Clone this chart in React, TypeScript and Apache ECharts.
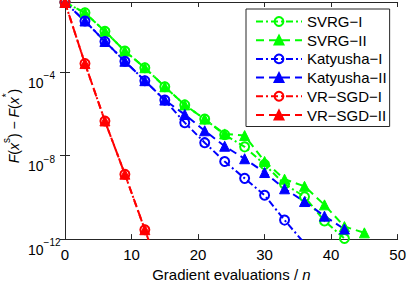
import React, { useEffect, useRef } from 'react';
import * as echarts from 'echarts';

const FONT = '"Liberation Sans", Arial, Helvetica, sans-serif';

// Gradient evaluations / n at which each marker is plotted
const evals = [0, 3, 6, 9, 12, 15, 18, 21, 24, 27, 30, 33, 36, 39, 42, 45];

// log10 of F(x^s) - F(x^*)
const svrgI = [-0.66, -1.16, -2.04, -2.99, -3.79, -4.7, -5.57, -6.25, -7.0, -7.58, -8.43, -9.36, -9.97, -11.13, -11.97];
const svrgII = [-0.66, -1.16, -2.04, -2.99, -3.79, -4.7, -5.57, -6.25, -6.96, -7.04, -8.28, -9.13, -9.47, -10.36, -11.4, -11.7];
const katyushaI = [-0.66, -1.55, -2.53, -3.48, -4.41, -5.34, -6.42, -7.38, -8.28, -9.09, -9.9, -11.09, -12.2];
const katyushaII = [-0.66, -1.55, -2.53, -3.48, -4.41, -5.34, -6.03, -6.81, -7.55, -8.15, -8.81, -9.59, -10.2, -10.9, -11.52];
const vrsgdI = [-0.66, -3.59, -6.34, -8.89, -11.55, -14.2];
const vrsgdII = [-0.66, -3.59, -6.34, -8.89, -11.55, -14.2];

const names = ['SVRG−I', 'SVRG−II', 'Katyusha−I', 'Katyusha−II', 'VR−SGD−I', 'VR−SGD−II'];
const GREEN = '#00ff00';
const BLUE = '#0000ff';
const RED = '#ff0000';

const X_MIN = 0;
const X_MAX = 50;
const X_STEP = 10;
const Y_MIN = -12;
const Y_MAX = -0.64;
const Y_STEP = 4;

function pairs(arr: number[]) {
  return arr.map((v, i) => [evals[i], v]);
}

function mk(name: string, arr: number[], color: string, kind: 'I' | 'II') {
  const isI = kind === 'I';
  return {
    name,
    type: 'line',
    data: pairs(arr),
    clip: true,
    symbol: isI ? 'circle' : 'triangle',
    symbolSize: isI ? 9 : 10,
    showAllSymbol: true,
    lineStyle: { color, width: 2, type: isI ? [7, 3, 2, 3] : [8, 5] },
    itemStyle: isI
      ? { color: 'rgba(255,255,255,0)', borderColor: color, borderWidth: 2 }
      : { color, borderColor: color, borderWidth: 1 },
    emphasis: { disabled: true },
  };
}

export default function App() {
  const ref = useRef<HTMLDivElement>(null);
  useEffect(() => {
    if (!ref.current) return;
    const chart = echarts.init(ref.current, undefined, { renderer: 'svg' });
    const axisColor = '#262626';
    chart.setOption({
      animation: false,
      backgroundColor: '#fff',
      textStyle: { fontFamily: FONT },
      grid: { left: 65, top: 2, right: 9, bottom: 40, containLabel: false },
      legend: {
        orient: 'vertical',
        left: 246,
        top: 9,
        itemWidth: 46,
        itemHeight: 11,
        itemGap: 3.7,
        padding: [5, 3, 4, 9],
        borderColor: axisColor,
        borderWidth: 1,
        backgroundColor: '#fff',
        textStyle: { fontSize: 15, color: '#000', fontFamily: FONT, lineHeight: 15 },
        data: names,
      },
      xAxis: [
        {
          type: 'value',
          min: X_MIN,
          max: X_MAX,
          interval: X_STEP,
          position: 'bottom',
          axisLine: { show: true, lineStyle: { color: axisColor, width: 1 } },
          axisTick: { show: true, inside: true, length: 5, lineStyle: { color: axisColor } },
          axisLabel: { fontSize: 15, color: '#000', margin: 8, fontFamily: FONT },
          splitLine: { show: false },
          name: 'Gradient evaluations / {i|n}',
          nameLocation: 'middle',
          nameGap: 25,
          nameTextStyle: {
            fontSize: 15,
            color: '#000',
            fontFamily: FONT,
            rich: { i: { fontSize: 15, fontStyle: 'italic', color: '#000', fontFamily: FONT } },
          },
        },
        {
          type: 'value',
          min: X_MIN,
          max: X_MAX,
          interval: X_STEP,
          position: 'top',
          axisLine: { show: true, lineStyle: { color: axisColor, width: 1 } },
          axisTick: { show: true, inside: true, length: 5, lineStyle: { color: axisColor } },
          axisLabel: { show: false },
          splitLine: { show: false },
        },
      ],
      yAxis: [
        {
          type: 'value',
          min: Y_MIN,
          max: Y_MAX,
          interval: Y_STEP,
          position: 'left',
          axisLine: { show: true, lineStyle: { color: axisColor, width: 1 } },
          axisTick: { show: true, inside: true, length: 5, lineStyle: { color: axisColor } },
          axisLabel: {
            align: 'left',
            margin: 37,
            showMaxLabel: false,
            padding: [16, 0, 0, 0],
            formatter: (v: number) => {
              const e = Math.round(v);
              return `{b|10}{s|${e < 0 ? '−' : ''}${Math.abs(e)}}`;
            },
            rich: {
              b: { fontSize: 14, color: '#000', fontFamily: FONT, verticalAlign: 'bottom' },
              s: { fontSize: 10, color: '#000', fontFamily: FONT, padding: [0, 0, 9, 0], verticalAlign: 'bottom' },
            },
          },
          splitLine: { show: false },
        },
        {
          type: 'value',
          min: Y_MIN,
          max: Y_MAX,
          interval: Y_STEP,
          position: 'right',
          axisLine: { show: true, lineStyle: { color: axisColor, width: 1 } },
          axisTick: { show: true, inside: true, length: 5, lineStyle: { color: axisColor } },
          axisLabel: { show: false },
          splitLine: { show: false },
        },
      ],
      graphic: [
        {
          type: 'text',
          x: 11,
          y: 126,
          rotation: Math.PI / 2,
          style: {
            text: '{i|F}{r|(}{i|x}{u|s}{r|) − }{i|F}{r|(}{i|x}{u|*}{r|)}',
            align: 'center',
            verticalAlign: 'middle',
            rich: {
              i: { fontSize: 14, fontStyle: 'italic', fill: '#000', fontFamily: FONT, verticalAlign: 'bottom' },
              r: { fontSize: 14, fill: '#000', fontFamily: FONT, verticalAlign: 'bottom' },
              u: { fontSize: 10, fill: '#000', fontFamily: FONT, padding: [0, 0, 9, 0], verticalAlign: 'bottom' },
            },
          },
        },
      ],
      series: [
        mk(names[0], svrgI, GREEN, 'I'),
        mk(names[1], svrgII, GREEN, 'II'),
        mk(names[2], katyushaI, BLUE, 'I'),
        mk(names[3], katyushaII, BLUE, 'II'),
        mk(names[4], vrsgdI, RED, 'I'),
        mk(names[5], vrsgdII, RED, 'II'),
      ],
    });
    return () => chart.dispose();
  }, []);
  return (
    <div
      ref={ref}
      style={{ position: 'fixed', left: 0, top: 0, width: 409, height: 287, background: '#fff' }}
    />
  );
}
